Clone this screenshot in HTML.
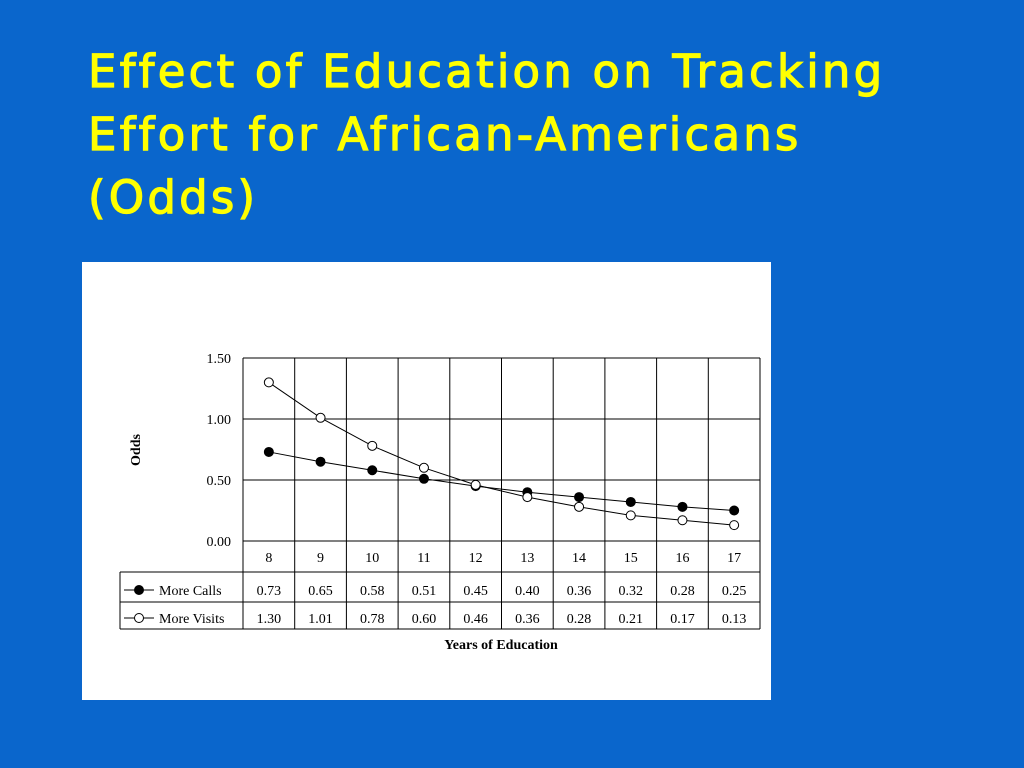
<!DOCTYPE html>
<html><head><meta charset="utf-8"><style>
body{margin:0;width:1024px;height:768px;background:#0a66cc;overflow:hidden;position:relative;font-family:"Liberation Sans",sans-serif}
#title{position:absolute;left:88px;top:40px;color:#ffff00;font-family:"DejaVu Sans",sans-serif;font-size:45px;line-height:63px;margin:0;font-weight:normal;letter-spacing:3.2px;-webkit-text-stroke:1.2px #ffff00}
#panel{position:absolute;left:82px;top:262px;width:689px;height:438px;background:#fff}
svg text{font-family:"Liberation Serif",serif;font-size:14px;fill:#000}
</style></head><body>
<h1 id="title">Effect of Education on Tracking<br>Effort for African-Americans<br>(Odds)</h1>
<div id="panel"></div>
<svg id="chart" width="1024" height="768" style="position:absolute;left:0;top:0"></svg>
<script>
const categories=[8,9,10,11,12,13,14,15,16,17];
const moreCalls=[0.73,0.65,0.58,0.51,0.45,0.40,0.36,0.32,0.28,0.25];
const moreVisits=[1.30,1.01,0.78,0.60,0.46,0.36,0.28,0.21,0.17,0.13];
const yTicks=[0,0.5,1.0,1.5];
const seriesNames=["More Calls","More Visits"];
const svg=document.getElementById('chart');
const NS='http://www.w3.org/2000/svg';
const L=243,R=760,T=358,B=541,rowTop=572,rowMid=602,rowBot=629,legL=120;
const cw=(R-L)/categories.length;
const xs=i=>L+cw*(i+0.5);
const ys=v=>B-(v/1.5)*(B-T);
function mk(tag,attrs,name){const e=document.createElementNS(NS,tag);for(const k in attrs)e.setAttribute(k,attrs[k]);


svg.appendChild(e);return e;}
function line(x1,y1,x2,y2,name){return mk('line',{x1,y1,x2,y2,stroke:'#000','stroke-width':1},name);}
function txt(x,y,s,name,anchor){const t=mk('text',{x,y,'text-anchor':anchor||'middle'},name);t.textContent=s;return t;}
yTicks.forEach(v=>{line(L,ys(v),R,ys(v),'gridline-y');txt(L-12,ys(v)+5,v.toFixed(2),'y-tick-label','end');});
for(let i=0;i<=categories.length;i++){line(L+cw*i,T,L+cw*i,rowBot,'gridline-x');}
line(legL,rowTop,R,rowTop,'table-line');line(legL,rowMid,R,rowMid,'table-line');line(legL,rowBot,R,rowBot,'table-line');
line(legL,rowTop,legL,rowBot,'table-line');
categories.forEach((c,i)=>{txt(xs(i),562,String(c),'x-tick-label');
txt(xs(i),595,moreCalls[i].toFixed(2),'table-value-calls');
txt(xs(i),623,moreVisits[i].toFixed(2),'table-value-visits');});
const t=txt(140,450,'Odds','y-axis-title');t.setAttribute('transform','rotate(-90 140 450)');t.setAttribute('font-weight','bold');
const xt=txt(501,649,'Years of Education','x-axis-title');xt.setAttribute('font-weight','bold');
[[moreCalls,'#000','calls',594],[moreVisits,'#fff','visits',622]].forEach(([d,fill,nm,ly])=>{
mk('polyline',{points:d.map((v,i)=>xs(i)+','+ys(v)).join(' '),fill:'none',stroke:'#000','stroke-width':1},'line-'+nm);
d.forEach((v,i)=>mk('circle',{cx:xs(i),cy:ys(v),r:4.5,fill,stroke:'#000'},'point-'+nm));
line(124,ly-4,154,ly-4,'legend-line-'+nm);mk('circle',{cx:139,cy:ly-4,r:4.5,fill,stroke:'#000'},'legend-marker-'+nm);
txt(159,ly+1,nm==='calls'?seriesNames[0]:seriesNames[1],'legend-label-'+nm,'start');});
</script>
</body></html>
